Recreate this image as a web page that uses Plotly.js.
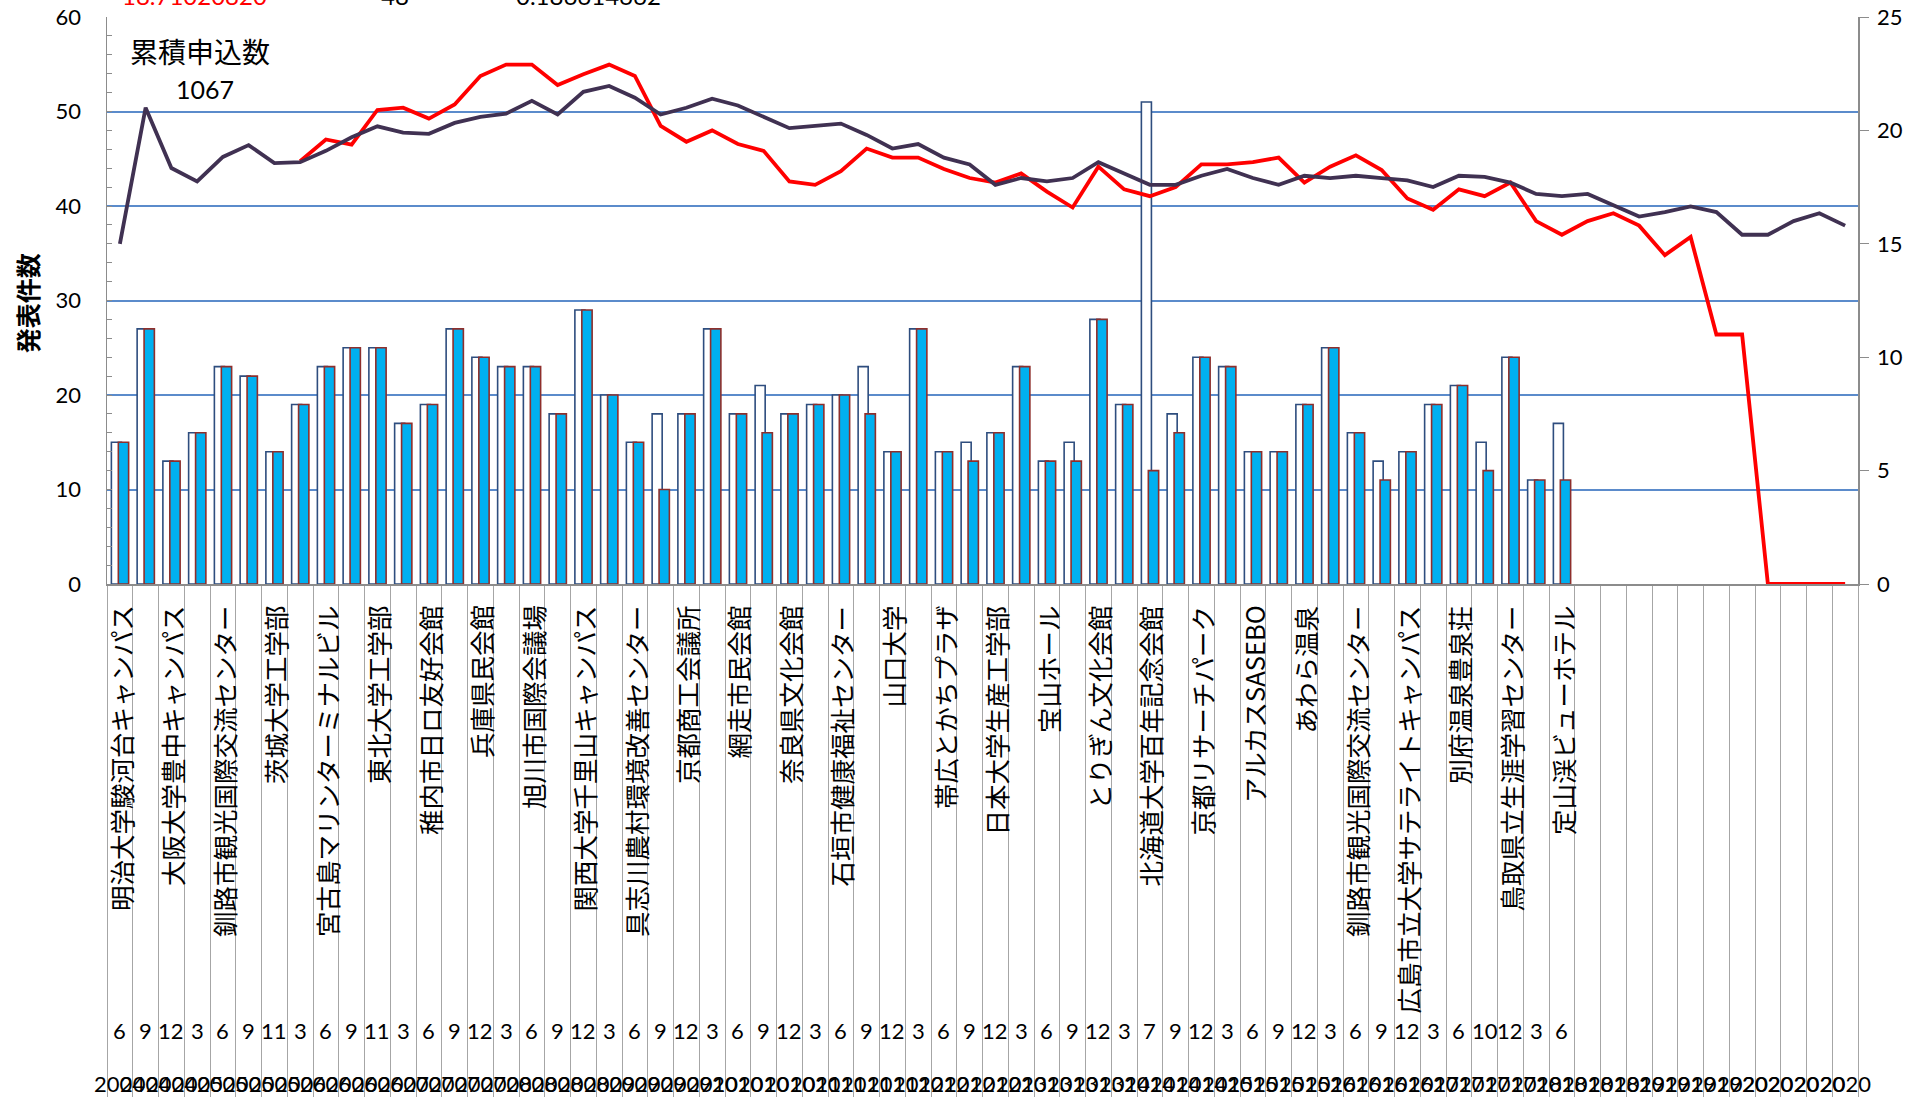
<!DOCTYPE html>
<html><head><meta charset="utf-8">
<script src="https://cdn.plot.ly/plotly-3.0.1.min.js"></script>
<style>html,body{margin:0;padding:0;background:#fff;overflow:hidden}#chart{width:1921px;height:1097px}</style>
</head><body><div id="chart"></div><script>
// ---- data ----
const years = [
  "2004","2004","2004",
  "2005","2005","2005","2005",
  "2006","2006","2006","2006",
  "2007","2007","2007","2007",
  "2008","2008","2008","2008",
  "2009","2009","2009","2009",
  "2010","2010","2010","2010",
  "2011","2011","2011","2011",
  "2012","2012","2012","2012",
  "2013","2013","2013","2013",
  "2014","2014","2014","2014",
  "2015","2015","2015","2015",
  "2016","2016","2016","2016",
  "2017","2017","2017","2017",
  "2018","2018","2018","2018",
  "2019","2019","2019","2019",
  "2020","2020","2020","2020","2020"
];
const months = [
  "6","9","12",
  "3","6","9","11",
  "3","6","9","11",
  "3","6","9","12",
  "3","6","9","12",
  "3","6","9","12",
  "3","6","9","12",
  "3","6","9","12",
  "3","6","9","12",
  "3","6","9","12",
  "3","7","9","12",
  "3","6","9","12",
  "3","6","9","12",
  "3","6","10","12",
  "3","6","","",
  "","","","",
  "","","","",""
];
const venues = [
  "明治大学駿河台キャンパス","","大阪大学豊中キャンパス","","釧路市観光国際交流センター","",
  "茨城大学工学部","","宮古島マリンターミナルビル","","東北大学工学部","",
  "稚内市日ロ友好会館","","兵庫県民会館","","旭川市国際会議場","",
  "関西大学千里山キャンパス","","具志川農村環境改善センター","","京都商工会議所","",
  "網走市民会館","","奈良県文化会館","","石垣市健康福祉センター","",
  "山口大学","","帯広とかちプラザ","","日本大学生産工学部","",
  "宝山ホール","","とりぎん文化会館","","北海道大学百年記念会館","",
  "京都リサーチパーク","","アルカスSASEBO","","あわら温泉","",
  "釧路市観光国際交流センター","","広島市立大学サテライトキャンパス","","別府温泉豊泉荘","",
  "鳥取県立生涯学習センター","","定山渓ビューホテル"
];
// white bars (left axis)
const applied = [15,27,13,16,23,22,14,19,23,25,25,17,19,27,24,23,23,18,29,20,15,18,18,27,18,21,18,19,20,23,
  14,27,14,15,16,23,13,15,28,19,51,18,24,23,14,14,19,25,16,13,14,19,21,15,24,11,17];
// blue bars (left axis)
const presented = [15,27,13,16,23,22,14,19,23,25,25,17,19,27,24,23,23,18,29,20,15,10,18,27,18,16,18,19,20,18,
  14,27,14,13,16,23,13,13,28,19,12,16,24,23,14,14,19,25,16,11,14,19,21,12,24,11,11];
// dark line (right axis)
const avgAll = [15.0,21.0,18.34,17.75,18.83,19.35,18.56,18.6,19.1,19.7,20.18,19.9,19.85,20.33,20.6,20.74,21.3,20.7,21.7,21.96,
  21.44,20.7,21.0,21.4,21.1,20.6,20.1,20.2,20.3,19.8,19.2,19.4,18.8,18.5,17.6,17.9,17.75,17.9,18.6,18.1,
  17.6,17.6,18.0,18.3,17.9,17.6,18.0,17.9,18.0,17.9,17.8,17.5,18.0,17.95,17.7,17.2,17.1,17.2,16.7,16.2,
  16.4,16.65,16.4,15.4,15.4,16.0,16.35,15.8];
// red line (right axis)
const avgRecent = [null,null,null,null,null,null,null,18.64,19.6,19.37,20.9,21.0,20.52,21.14,22.4,22.9,22.9,22.0,22.48,22.9,
  22.4,20.2,19.5,20.0,19.4,19.1,17.75,17.6,18.2,19.2,18.8,18.8,18.3,17.9,17.7,18.1,17.3,16.6,18.4,17.4,
  17.1,17.5,18.5,18.5,18.6,18.8,17.7,18.4,18.9,18.25,17.0,16.5,17.4,17.1,17.7,16.0,15.4,16.0,16.35,15.8,
  14.5,15.3,11.0,11.0,0,0,0,0];
const totalLabel = "累積申込数";
const totalValue = "1067";
const topTexts = [["18.71020820","#FF0000"],["48","#000000"],["0.186614662","#000000"]];

// ---- chart ----
const idx = years.map((_, i) => i);
const barIdx = applied.map((_, i) => i);
const NUM_FONT = "Lato, 'Open Sans', sans-serif";
const JP_FONT = "'Noto Sans CJK JP', 'Noto Sans', sans-serif";

const traces = [
  {type:"bar", x:barIdx, y:applied, width:0.39, offset:-0.33,
   marker:{color:"#FFFFFF", line:{color:"#2E4D7E", width:1.6}}, hoverinfo:"skip"},
  {type:"bar", x:barIdx, y:presented, width:0.40, offset:-0.06,
   marker:{color:"#00B0F0", line:{color:"#8E2F2C", width:1.6}}, hoverinfo:"skip"},
  {type:"scatter", mode:"lines", x:idx, y:avgRecent, yaxis:"y2",
   line:{color:"#FF0000", width:3.8}, connectgaps:false, hoverinfo:"skip"},
  {type:"scatter", mode:"lines", x:idx, y:avgAll, yaxis:"y2",
   line:{color:"#403152", width:3.8}, hoverinfo:"skip"}
];

const boundaries = [];
for (let i = 0; i <= years.length; i++) boundaries.push(i - 0.5);

const ann = [];
venues.forEach((v, i) => {
  if (!v) return;
  ann.push({xref:"x", yref:"paper", x:i, y:0, yshift:-19, xanchor:"center", yanchor:"top",
    textangle:-90, showarrow:false, text:v, font:{family:JP_FONT, size:25.5, color:"#000"}});
});
months.forEach((m, i) => {
  if (!m) return;
  ann.push({xref:"x", yref:"paper", x:i, y:0, yshift:-446, xanchor:"center", yanchor:"middle",
    showarrow:false, text:m, font:{family:NUM_FONT, size:22, color:"#000"}});
});
years.forEach((yv, i) => {
  ann.push({xref:"x", yref:"paper", x:i, y:0, yshift:-499, xanchor:"center", yanchor:"middle",
    showarrow:false, text:yv, font:{family:NUM_FONT, size:22, color:"#000"}});
});
ann.push({xref:"paper", yref:"paper", x:0, y:1, xshift:93, yshift:-34, xanchor:"center", yanchor:"middle",
  showarrow:false, text:totalLabel, font:{family:JP_FONT, size:28, color:"#000"}});
ann.push({xref:"paper", yref:"paper", x:0, y:1, xshift:98, yshift:-72, xanchor:"center", yanchor:"middle",
  showarrow:false, text:totalValue, font:{family:NUM_FONT, size:25, color:"#000"}});
const topX = [87, 288, 481];
topTexts.forEach((t, i) => {
  ann.push({xref:"paper", yref:"paper", x:0, y:1, xshift:topX[i], yshift:5, xanchor:"center", yanchor:"bottom",
    showarrow:false, text:t[0], font:{family:NUM_FONT, size:24, color:t[1]}});
});
ann.push({xref:"paper", yref:"paper", x:0, y:0.495, xshift:-80, xanchor:"center", yanchor:"middle",
  textangle:-90, showarrow:false, text:"<b>発表件数</b>", font:{family:JP_FONT, size:25, color:"#000"}});

const layout = {
  width:1921, height:1097,
  margin:{l:107, r:63, t:17, b:513, pad:0},
  paper_bgcolor:"#FFFFFF", plot_bgcolor:"#FFFFFF",
  showlegend:false, barmode:"overlay",
  xaxis:{range:[-0.5, years.length - 0.5], tickmode:"array", tickvals:boundaries,
    ticks:"outside", ticklen:513, tickwidth:1, tickcolor:"#A6A6A6",
    showticklabels:false, showgrid:false, zeroline:false,
    showline:true, linecolor:"#8C8C8C", linewidth:1.5},
  yaxis:{range:[0,60], dtick:10, showgrid:true, gridcolor:"#5B8BCB", gridwidth:2,
    zeroline:false, showline:true, linecolor:"#8C8C8C", linewidth:1.5,
    ticks:"inside", ticklen:5, tickcolor:"#8C8C8C",
    minor:{dtick:2, ticks:"inside", ticklen:5, tickcolor:"#8C8C8C", showgrid:false},
    ticklabelstandoff:20, tickfont:{family:NUM_FONT, size:22, color:"#000"}},
  yaxis2:{overlaying:"y", side:"right", range:[0,25], dtick:5, showgrid:false, zeroline:false,
    showline:true, linecolor:"#8C8C8C", linewidth:1.5, ticks:"outside", ticklen:9, tickcolor:"#8C8C8C",
    ticklabelstandoff:4, tickfont:{family:NUM_FONT, size:22, color:"#000"}},
  annotations:ann
};
Plotly.newPlot("chart", traces, layout, {displayModeBar:false, staticPlot:true});
</script></body></html>
